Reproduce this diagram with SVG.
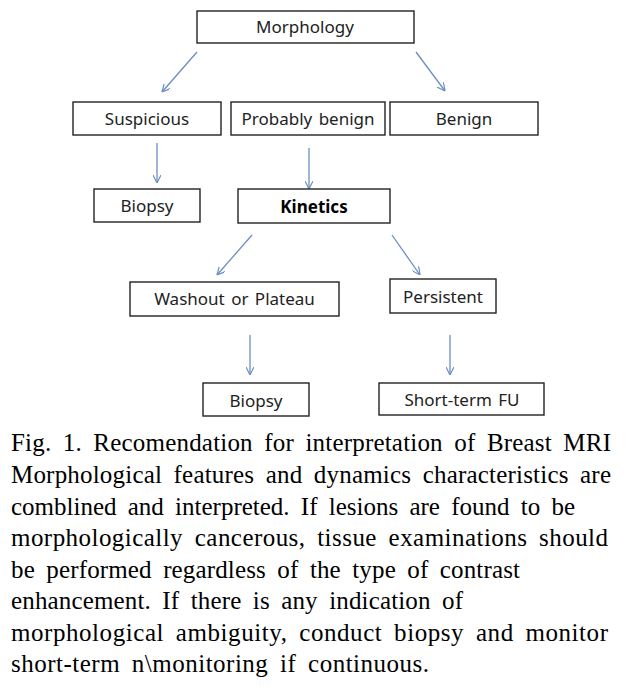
<svg xmlns="http://www.w3.org/2000/svg" width="628" height="687" viewBox="0 0 628 687">
<style>
.box{fill:#fff;stroke:#222;stroke-width:1.4}
.lbl{font-family:"Noto Sans","Open Sans",sans-serif;font-size:17px;fill:#222;text-anchor:middle;word-spacing:2px}
.bold{font-weight:bold;fill:#000;word-spacing:0}
.arr{stroke:#6a8fc4;stroke-width:1.3;fill:none;marker-end:url(#ah)}
.cap text{font-family:"Liberation Serif","Times New Roman",Times,serif;font-size:25px;fill:#000;word-spacing:5px}
</style>
<defs>
<marker id="ah" viewBox="0 0 10 10" refX="10" refY="5" markerWidth="8" markerHeight="8" markerUnits="userSpaceOnUse" orient="auto">
<path d="M0,0 L10,5 L0,10" fill="none" stroke="#6a8fc4" stroke-width="1.5"/>
</marker>
</defs>
<rect width="628" height="687" fill="#fff"/>
<g id="connectors">
<line class="arr" x1="197" y1="52" x2="162" y2="92"/>
<line class="arr" x1="416" y1="52" x2="445" y2="91"/>
<line class="arr" x1="157" y1="143" x2="157" y2="183"/>
<line class="arr" x1="309" y1="148" x2="309" y2="189"/>
<line class="arr" x1="252" y1="235" x2="217" y2="275"/>
<line class="arr" x1="392" y1="235" x2="420" y2="275"/>
<line class="arr" x1="250" y1="335" x2="250" y2="375"/>
<line class="arr" x1="450" y1="335" x2="450" y2="375"/>
</g>
<g id="morphology"><rect class="box" x="197" y="11" width="217" height="32"/><text class="lbl" x="305" y="33">Morphology</text></g>
<g id="suspicious"><rect class="box" x="73" y="102" width="148" height="33"/><text class="lbl" x="147" y="125">Suspicious</text></g>
<g id="probably-benign"><rect class="box" x="231" y="102" width="154" height="33"/><text class="lbl" x="308" y="125">Probably benign</text></g>
<g id="benign"><rect class="box" x="390" y="102" width="148" height="33"/><text class="lbl" x="464" y="125">Benign</text></g>
<g id="biopsy1"><rect class="box" x="94" y="189" width="106" height="33"/><text class="lbl" x="147" y="212">Biopsy</text></g>
<g id="kinetics"><rect class="box" x="238" y="189" width="152" height="34"/><text class="lbl bold" x="314" y="213">Kinetics</text></g>
<g id="washout"><rect class="box" x="130" y="282" width="209" height="34"/><text class="lbl" x="234.5" y="305">Washout or Plateau</text></g>
<g id="persistent"><rect class="box" x="390" y="279" width="106" height="34"/><text class="lbl" x="443" y="303">Persistent</text></g>
<g id="biopsy2"><rect class="box" x="203" y="383" width="106" height="33"/><text class="lbl" x="256" y="407">Biopsy</text></g>
<g id="shortterm"><rect class="box" x="379" y="383" width="165" height="32"/><text class="lbl" x="462" y="406">Short-term FU</text></g>
<g id="caption" class="cap">
<text x="11" y="451" textLength="600" lengthAdjust="spacing">Fig. 1. Recomendation for interpretation of Breast MRI</text>
<text x="11" y="483" textLength="600" lengthAdjust="spacing">Morphological features and dynamics characteristics are</text>
<text x="11" y="514.5" textLength="564" lengthAdjust="spacing">comblined and interpreted. If lesions are found to be</text>
<text x="11" y="546" textLength="597" lengthAdjust="spacing">morphologically cancerous, tissue examinations should</text>
<text x="11" y="577.5" textLength="509" lengthAdjust="spacing">be performed regardless of the type of contrast</text>
<text x="11" y="609" textLength="452" lengthAdjust="spacing">enhancement. If there is any indication of</text>
<text x="11" y="640.5" textLength="597" lengthAdjust="spacing">morphological ambiguity, conduct biopsy and monitor</text>
<text x="11" y="672" textLength="418" lengthAdjust="spacing">short-term n\monitoring if continuous.</text>
</g>
</svg>
